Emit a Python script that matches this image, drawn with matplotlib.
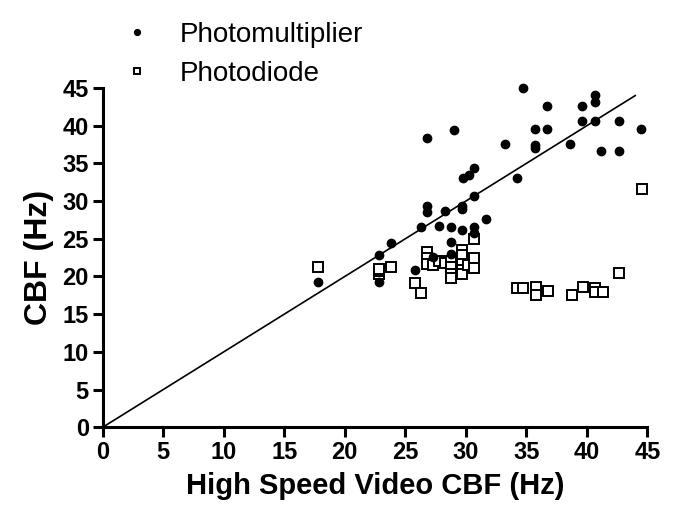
import matplotlib
matplotlib.use("Agg")
import matplotlib.pyplot as plt

plt.rcParams['font.family'] = ['Liberation Sans', 'DejaVu Sans']

# photomultiplier CBF vs high speed video CBF (Hz)
pm_x = [17.8, 22.8, 22.8, 23.8, 25.8, 26.3, 26.8, 26.8, 26.8, 27.3, 27.8, 28.3,
        28.8, 28.8, 28.8, 29.0, 29.7, 29.7, 29.7, 29.8, 30.3, 30.7, 30.7, 30.7,
        30.7, 31.7, 33.2, 34.2, 34.7, 35.7, 35.7, 35.7, 36.7, 36.7, 38.6, 39.6,
        39.6, 40.7, 40.7, 40.7, 41.2, 42.7, 42.7, 44.5]
pm_y = [19.3, 19.3, 22.8, 24.4, 20.8, 26.5, 38.4, 29.4, 28.6, 22.6, 26.7, 28.7,
        26.5, 24.6, 23.0, 39.4, 29.4, 28.9, 26.2, 33.0, 33.5, 34.4, 30.7, 26.5,
        25.8, 27.6, 37.6, 33.0, 45.0, 39.6, 37.5, 37.1, 42.6, 39.6, 37.6, 42.6,
        40.6, 44.1, 43.1, 40.6, 36.6, 40.6, 36.6, 39.6]

# photodiode CBF vs high speed video CBF (Hz)
pd_x = [17.8, 22.8, 22.8, 22.8, 23.8, 25.8, 26.3, 26.8, 26.8, 26.8, 27.3, 27.8,
        28.3, 28.8, 28.8, 28.8, 28.8, 29.7, 29.7, 29.7, 29.7, 29.7, 30.2, 30.7,
        30.7, 30.7, 34.2, 34.7, 35.8, 35.8, 36.8, 38.8, 39.7, 40.7, 40.7, 41.3,
        42.7, 44.6]
pd_y = [21.2, 20.3, 20.7, 21.0, 21.3, 19.2, 17.8, 23.3, 22.4, 21.6, 21.5, 22.0,
        21.8, 22.0, 21.2, 20.3, 19.8, 23.5, 22.8, 21.7, 20.9, 20.3, 21.5, 25.0,
        22.4, 21.1, 18.5, 18.5, 18.6, 17.6, 18.1, 17.6, 18.6, 18.5, 18.0, 18.0,
        20.5, 31.6]

ticks = [0, 5, 10, 15, 20, 25, 30, 35, 40, 45]

fig = plt.figure(figsize=(6.85, 5.21), dpi=100)
ax = fig.add_axes([0.150, 0.180, 0.795, 0.651])

ax.plot([0, 44], [0, 44], color='black', lw=1.2, zorder=1)
ax.plot(pm_x, pm_y, 'o', color='black', ms=6, label='Photomultiplier',
        zorder=3, clip_on=False)
ax.plot(pd_x, pd_y, 's', mfc='white', mec='black', mew=1.4, ms=6.5,
        label='Photodiode', zorder=2, clip_on=False)

ax.set_xlim(0, 45)
ax.set_ylim(0, 45)
ax.set_xticks(ticks)
ax.set_yticks(ticks)
for s in ['top', 'right']:
    ax.spines[s].set_visible(False)
for s in ['left', 'bottom']:
    ax.spines[s].set_linewidth(2.2)
ax.tick_params(width=2.2, length=7, labelsize=17, pad=3)
for lab in ax.get_xticklabels() + ax.get_yticklabels():
    lab.set_fontweight('bold')

ax.set_xlabel('High Speed Video CBF (Hz)', fontsize=21, fontweight='bold', labelpad=6)
ax.set_ylabel('CBF (Hz)', fontsize=23, fontweight='bold', labelpad=6)

leg = fig.legend(loc='upper left', bbox_to_anchor=(0.143, 0.979), frameon=False,
                 fontsize=20, handlelength=2.0, handletextpad=0.55,
                 labelspacing=0.47, borderaxespad=0, markerscale=0.7)

fig.savefig('out.png', dpi=100)
